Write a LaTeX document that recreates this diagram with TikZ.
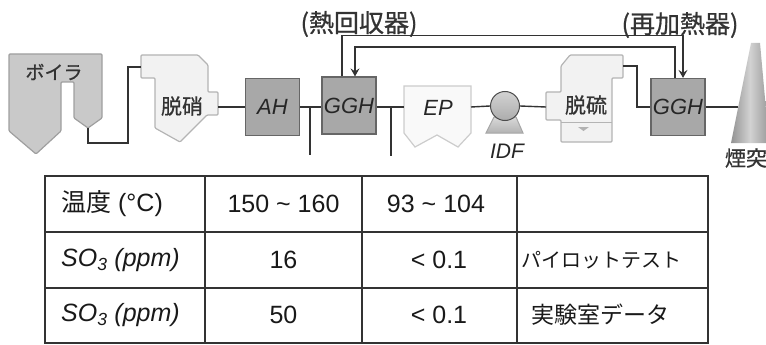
\documentclass[tikz,border=0pt]{standalone}
\usepackage{fontspec}
\setmainfont{Liberation Sans}
\newfontfamily\jp{Noto Sans CJK JP}
\newfontfamily\jpheavy[FakeBold=0.8]{Noto Sans CJK JP}
\usepackage{xcolor}
\usepackage{tikz}
\usetikzlibrary{arrows.meta,shapes,backgrounds}

\definecolor{linegray}{HTML}{333333}
\definecolor{boilergray}{HTML}{C9C9C9}
\definecolor{boxgray}{HTML}{A8A8A8}
\definecolor{paleedge}{HTML}{B4B4B4}
\definecolor{palefill}{HTML}{F2F2F2}

\begin{document}
\begin{tikzpicture}[x=1pt,y=-1pt]
            \tikzstyle{flow}=[draw=linegray, line width=1.4pt];
            \tikzstyle{arrowflow}=[flow, -{Stealth[length=8pt,width=9pt,inset=3pt]}];
            \tikzstyle{darkbox}=[draw=gray!80!black, line width=1.2pt, fill=boxgray, minimum width=54pt, minimum height=57pt, inner sep=0pt, font=\fontsize{22}{24}\itshape\selectfont, text=black!85];
            \tikzstyle{unitlabel}=[font=\jpheavy\fontsize{21}{24}\selectfont, text=black!80, inner sep=0pt];
            \tikzstyle{tbl}=[draw=black!80, line width=1.6pt];
            \tikzstyle{cell}=[font=\fontsize{25}{28}\selectfont, text=black!90, inner sep=0pt];

            \useasboundingbox (0,0) rectangle (766,345);

            % Boiler
            \draw[draw=gray!75, line width=1.2pt, fill=boilergray, rounded corners=1pt]
                (9,54) -- (102,54) -- (102,118) -- (88,128) -- (74,118) -- (74,82) -- (61,82)
                -- (61,131) -- (36,154) -- (9,131) -- cycle;
            \node[unitlabel, font=\jpheavy\fontsize{19}{22}\selectfont] (boiler) at (54,72) {ボイラ};
            \coordinate (boilerout) at (88,128);

            % Denitration unit
            \draw[draw=paleedge, line width=1.2pt, fill=palefill, rounded corners=1pt]
                (141,55) -- (198,55) -- (208,65) -- (208,92) -- (218,92) -- (218,115) -- (207,115)
                -- (180,142) -- (155,128) -- (155,78) -- (141,78) -- cycle;
            \node[unitlabel] (denox) at (182,106) {脱硝};
            \coordinate (denoxin) at (141,67);
            \coordinate (denoxout) at (218,107);

            % Air heater and heat recovery GGH
            \node[darkbox] (ah) at (272.5,107) {AH};
            \node[darkbox] (ggh1) at (349,105.5) {GGH};

            % Electrostatic precipitator
            \draw[draw=gray!40, line width=1.2pt, fill=gray!5]
                (404,86) -- (471,86) -- (471,133) -- (458,147) -- (437,135) -- (415,147) -- (404,133) -- cycle;
            \node[font=\fontsize{22}{24}\itshape\selectfont, text=black!85, inner sep=0pt] (ep) at (438,108) {EP};
            \coordinate (epin) at (404,107);
            \coordinate (epout) at (471,107);

            % Induced draft fan
            \draw[draw=gray!70, line width=1pt, top color=gray!30, bottom color=gray!60]
                (494,117) -- (516,117) -- (523,133) -- (486,133) -- cycle;
            \node[circle, draw=gray!60!black, line width=1pt, top color=gray!35, bottom color=gray!65,
                minimum size=29pt, inner sep=0pt] (fan) at (505,106) {};
            \node[font=\fontsize{21}{24}\itshape\selectfont, text=black!85, inner sep=0pt] (idf) at (507,151) {IDF};

            % Desulfurization unit
            \draw[draw=paleedge, line width=1.2pt, fill=palefill, rounded corners=1pt]
                (570,55) -- (623,55) -- (623,78) -- (612,78) -- (612,142) -- (561,142) -- (561,120)
                -- (546,120) -- (546,92) -- (561,92) -- (561,66) -- cycle;
            \draw[draw=paleedge, line width=1pt] (561,122) -- (612,122);
            \fill[gray!60] (578,127) -- (589,127) -- (583.5,131) -- cycle;
            \node[unitlabel] (desox) at (586,105) {脱硫};
            \coordinate (desoxin) at (546,107);
            \coordinate (desoxout) at (623,66);

            % Reheating GGH
            \node[darkbox] (ggh2) at (678,107) {GGH};

            % Stack
            \shade[left color=gray!85, right color=gray!80, middle color=gray!35]
                (751,43) -- (760,43) -- (769,143) -- (731,143) -- cycle;
            \node[unitlabel] (stack) at (746,158) {煙突};
            \coordinate (stackin) at (738,107);

            % Gas flow lines
            \draw[flow] (boilerout) -- ++(0,15) -- ++(40,0) |- (denoxin);
            \draw[flow] (denoxout) -- (ah.west);
            \draw[flow] (ah.east) -- (ggh1.west |- ah.east);
            \draw[flow] (ggh1.east |- ah.east) -- (epin);
            \draw[flow] (epout) -- (fan.west);
            \draw[flow] (fan.east) -- (desoxin);
            \draw[flow] (desoxout) -- ++(14,0) |- (ggh2.west);
            \draw[flow] (ggh2.east) -- (stackin);

            % Sampling taps
            \coordinate (tapa) at (310,107);
            \coordinate (tapb) at (391,107);
            \draw[flow] (tapa) -- ++(0,48);
            \draw[flow] (tapb) -- ++(0,49);

            % Heat medium loop between the two GGH
            \draw[arrowflow] ([xshift=-7pt]ggh1.north) -- ++(0,-41) -| ([xshift=5pt]ggh2.north);
            \draw[arrowflow] ([xshift=-3pt]ggh2.north) -- ++(0,-31) -| ([xshift=6pt]ggh1.north);
            \node[unitlabel, font=\jpheavy\fontsize{25}{28}\selectfont] (recovery) at (359,24) {(熱回収器)};
            \node[unitlabel, font=\jpheavy\fontsize{25}{28}\selectfont] (reheater) at (680,25) {(再加熱器)};

            % Data table
            \draw[tbl] (45,176) rectangle (708,343);
            \draw[tbl] (45,232) -- (708,232);
            \draw[tbl] (45,288) -- (708,288);
            \draw[tbl] (205,176) -- (205,343);
            \draw[tbl] (362,176) -- (362,343);
            \draw[tbl] (517,176) -- (517,343);

            \node[cell, anchor=west] (templabel) at (61,204) {{\jp 温度} (°C)};
            \node[cell] (tempin) at (283.5,204) {150 \textasciitilde{} 160};
            \node[cell] (tempout) at (436,204) {93 \textasciitilde{} 104};

            \node[cell, anchor=west, font=\fontsize{25}{28}\itshape\selectfont] (solabela) at (61,260) {SO\textsubscript{3} (ppm)};
            \node[cell] (soina) at (283.5,260) {16};
            \node[cell] (soouta) at (439,260) {< 0.1};
            \node[cell, anchor=west, font=\jp\fontsize{20}{22}\selectfont] (pilot) at (521,260) {パイロットテスト};

            \node[cell, anchor=west, font=\fontsize{25}{28}\itshape\selectfont] (solabelb) at (61,315) {SO\textsubscript{3} (ppm)};
            \node[cell] (soinb) at (283.5,315) {50};
            \node[cell] (sooutb) at (439,315) {< 0.1};
            \node[cell, anchor=west, font=\jp\fontsize{23}{26}\selectfont] (lab) at (531,315) {実験室データ};
        \end{tikzpicture}
\end{document}
